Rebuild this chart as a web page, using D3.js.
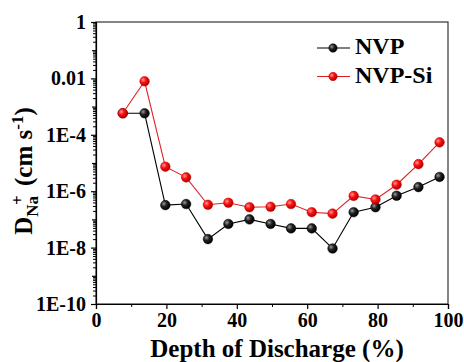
<!DOCTYPE html>
<html>
<head>
<meta charset="utf-8">
<script src="https://cdn.jsdelivr.net/npm/d3@7"></script>
<style>
  html, body { margin: 0; padding: 0; background: #fff; }
</style>
</head>
<body>
<svg id="chart" width="464" height="362"></svg>
<script>
// depth of discharge (%)
const dod = [7.6, 13.8, 19.7, 25.6, 31.8, 37.6, 43.6, 49.6, 55.4, 61.3, 67.2, 73.2, 79.4, 85.4, 91.6, 97.6];
// D_Na+ (cm s-1)
const nvp   = [5.8e-4, 5.8e-4, 3.2e-7, 3.5e-7, 2.0e-8, 6.9e-8, 1.0e-7, 6.9e-8, 4.8e-8, 4.8e-8, 9.3e-9, 1.8e-7, 2.7e-7, 6.9e-7, 1.4e-6, 3.2e-6];
const nvpSi = [5.8e-4, 7.9e-3, 7.4e-6, 3.1e-6, 3.3e-7, 3.9e-7, 2.7e-7, 2.8e-7, 3.5e-7, 1.8e-7, 1.6e-7, 6.8e-7, 5.1e-7, 1.7e-6, 9.1e-6, 5.4e-5];
const seriesNames = ['NVP', 'NVP-Si'];
const xTicks = [0, 20, 40, 60, 80, 100];
const yTicks = [1e-10, 1e-8, 1e-6, 1e-4, 1e-2, 1];
const yTickLabels = ['1E-10', '1E-8', '1E-6', '1E-4', '0.01', '1'];

const FONT = "'Liberation Serif', 'DejaVu Serif', serif";

const svg = d3.select('#chart');
const L = 96, R = 448, T = 22, B = 304;

const x = d3.scaleLinear().domain([0, 100]).range([L, R]);
const y = d3.scaleLog().domain([1e-10, 1]).range([B, T]);

// gradients for the shiny markers
const defs = svg.append('defs');
function ball(id, hi, mid, lo) {
  const g = defs.append('radialGradient').attr('id', id)
    .attr('cx', '35%').attr('cy', '35%').attr('r', '65%');
  g.append('stop').attr('offset', '0%').attr('stop-color', hi);
  g.append('stop').attr('offset', '45%').attr('stop-color', mid);
  g.append('stop').attr('offset', '100%').attr('stop-color', lo);
}
ball('gBlack', '#9a9a9a', '#222', '#000');
ball('gRed', '#ff9a9a', '#ff1010', '#b00000');

// frame
svg.append('rect').attr('x', L).attr('y', T).attr('width', R - L).attr('height', B - T)
  .attr('fill', 'none').attr('stroke', '#333').attr('stroke-width', 1.2);

// minor ticks
const minorY = [];
for (let e = -10; e < 0; e++) for (let k = 2; k <= 9; k++) minorY.push(k * Math.pow(10, e));
const oddDec = [1e-9, 1e-7, 1e-5, 1e-3, 1e-1];

svg.append('g').attr('transform', `translate(${L},0)`)
  .call(d3.axisLeft(y).tickValues(minorY).tickSize(3).tickFormat(''))
  .call(g => g.select('.domain').remove())
  .call(g => g.selectAll('line').attr('stroke', '#000').attr('stroke-width', 1));
svg.append('g').attr('transform', `translate(${L},0)`)
  .call(d3.axisLeft(y).tickValues(oddDec).tickSize(4).tickFormat(''))
  .call(g => g.select('.domain').remove())
  .call(g => g.selectAll('line').attr('stroke', '#000').attr('stroke-width', 1.2));

// y axis
svg.append('g').attr('transform', `translate(${L},0)`)
  .call(d3.axisLeft(y).tickValues(yTicks).tickSize(5).tickPadding(5)
    .tickFormat((d, i) => yTickLabels[i]))
  .attr('font-family', FONT).attr('font-size', 20).attr('font-weight', 'bold')
  .call(g => g.select('.domain').attr('stroke', '#000').attr('stroke-width', 1.2))
  .call(g => g.selectAll('line').attr('stroke', '#000').attr('stroke-width', 1.2))
  .call(g => g.selectAll('text').attr('fill', '#000'));

// x axis
svg.append('g').attr('transform', `translate(0,${B})`)
  .call(d3.axisBottom(x).tickValues([10, 30, 50, 70, 90]).tickSize(3).tickFormat(''))
  .call(g => g.select('.domain').remove())
  .call(g => g.selectAll('line').attr('stroke', '#000').attr('stroke-width', 1));
svg.append('g').attr('transform', `translate(0,${B})`)
  .call(d3.axisBottom(x).tickValues(xTicks).tickSize(5).tickPadding(4).tickFormat(d3.format('d')))
  .attr('font-family', FONT).attr('font-size', 20).attr('font-weight', 'bold')
  .call(g => g.select('.domain').attr('stroke', '#000').attr('stroke-width', 1.2))
  .call(g => g.selectAll('line').attr('stroke', '#000').attr('stroke-width', 1.2))
  .call(g => g.selectAll('text').attr('fill', '#000'));

// axis titles
svg.append('text').attr('x', 277).attr('y', 357)
  .attr('text-anchor', 'middle').attr('font-size', 25)
  .attr('font-family', FONT).attr('font-weight', 'bold')
  .text('Depth of Discharge (%)');

const yt = svg.append('text').attr('transform', 'translate(32,171) rotate(-90)')
  .attr('text-anchor', 'middle').attr('font-size', 25)
  .attr('font-family', FONT).attr('font-weight', 'bold');
yt.append('tspan').text('D');
yt.append('tspan').attr('font-size', 17).attr('dy', 6).text('Na');
yt.append('tspan').attr('font-size', 17).attr('dx', -9).attr('dy', -15).text('+');
yt.append('tspan').attr('dx', 3).attr('dy', 9).text(' (cm s');
yt.append('tspan').attr('font-size', 17).attr('dy', -9).text('-1');
yt.append('tspan').attr('dy', 9).text(')');

// series
const series = [
  { name: seriesNames[0], values: nvp, line: '#000', fill: 'url(#gBlack)', edge: '#000' },
  { name: seriesNames[1], values: nvpSi, line: '#e02020', fill: 'url(#gRed)', edge: '#c00000' }
];
const line = d3.line().x(d => x(d[0])).y(d => y(d[1]));

series.forEach(s => {
  const pts = dod.map((d, i) => [d, s.values[i]]);
  svg.append('path').datum(pts).attr('d', line)
    .attr('fill', 'none').attr('stroke', s.line).attr('stroke-width', 1.1);
  svg.append('g').selectAll('circle').data(pts).join('circle')
    .attr('cx', d => x(d[0])).attr('cy', d => y(d[1])).attr('r', 4.8)
    .attr('fill', s.fill).attr('stroke', s.edge).attr('stroke-width', 0.5);
});

// legend
const lg = svg.append('g');
series.forEach((s, i) => {
  const ly = 48 + i * 28.5;
  lg.append('line').attr('x1', 317).attr('x2', 350).attr('y1', ly).attr('y2', ly)
    .attr('stroke', s.line).attr('stroke-width', 1.1);
  lg.append('circle').attr('cx', 333).attr('cy', ly).attr('r', 4.2)
    .attr('fill', s.fill).attr('stroke', s.edge).attr('stroke-width', 0.5);
  lg.append('text').attr('x', 355).attr('y', ly + 6).attr('font-size', 24)
    .attr('font-family', FONT).attr('font-weight', 'bold').text(s.name);
});
</script>
</body>
</html>
